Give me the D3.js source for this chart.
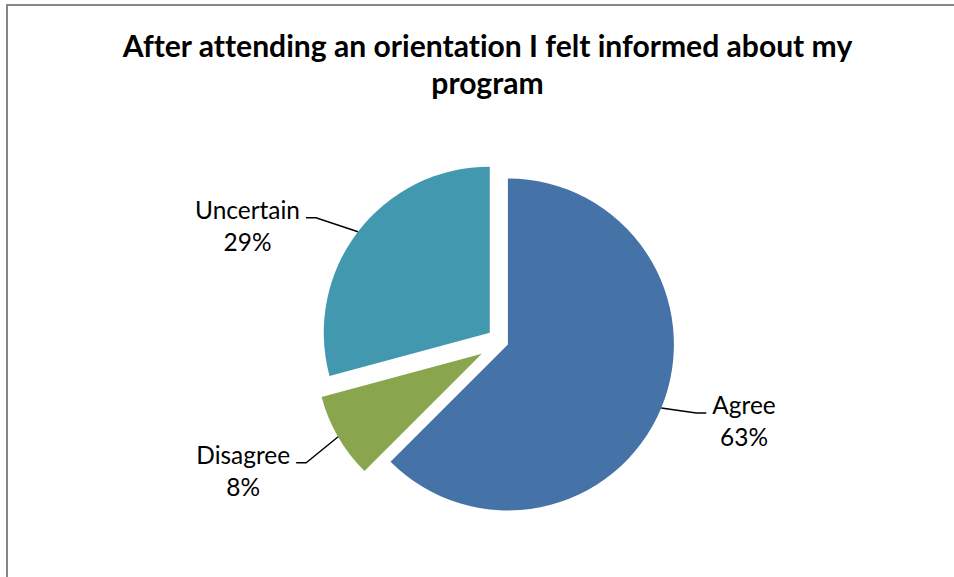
<!DOCTYPE html>
<html>
<head>
<meta charset="utf-8">
<script src="https://cdn.jsdelivr.net/npm/d3@7"></script>
<style>
  html, body { margin: 0; padding: 0; background: #fff; }
  svg { display: block; }
  text { font-variant-ligatures: none; font-feature-settings: "liga" 0, "clig" 0; }
</style>
</head>
<body>
<svg id="chart" width="954" height="577"></svg>
<script>
// ---- data ----
const titleLines = ["After attending an orientation I felt informed about my", "program"];
const categories = ["Agree", "Disagree", "Uncertain"];
const values = [62.5, 8.3, 29.2];
const percentLabels = ["63%", "8%", "29%"];

// ---- layout / style (not data) ----
const colors = ["#4572A7", "#89A54E", "#4198AF"];
const explodeBy = [6.4, 23.3, 15.4];           // px each slice is pulled out
const elbowOffset = [[35, 5], [-32, 26], [-42, -14]]; // leader elbow relative to arc point
const tailLength = 10;
const cx = 502, cy = 342, R = 166;

const svg = d3.select("#chart");

// frame
svg.append("rect")
  .attr("x", 7).attr("y", 5)
  .attr("width", 1200).attr("height", 1200)
  .attr("fill", "#fff")
  .attr("stroke", "#868686")
  .attr("stroke-width", 2);

// title
const titleFont = "Lato, 'Open Sans', sans-serif";
const title = svg.append("g");
const t1 = title.append("text")
  .attr("x", 487.5).attr("y", 57)
  .attr("text-anchor", "middle")
  .attr("font-family", titleFont).attr("font-weight", "bold")
  .attr("font-size", 30).attr("fill", "#000")
  .text(titleLines[0]);
const base = t1.node().getComputedTextLength();
const titleSize = 30 * 730 / base;
t1.attr("font-size", titleSize);
title.append("text")
  .attr("x", 487.5).attr("y", 94)
  .attr("text-anchor", "middle")
  .attr("font-family", titleFont).attr("font-weight", "bold")
  .attr("font-size", titleSize).attr("fill", "#000")
  .text(titleLines[1]);

// pie
const pie = d3.pie().sort(null).value(d => d);
const arcs = pie(values);
const arcGen = d3.arc().innerRadius(0).outerRadius(R);

const g = svg.append("g").attr("transform", `translate(${cx},${cy})`);

arcs.forEach((a, i) => {
  const mid = (a.startAngle + a.endAngle) / 2;
  const ox = Math.sin(mid) * explodeBy[i];
  const oy = -Math.cos(mid) * explodeBy[i];
  g.append("path")
    .attr("d", arcGen(a))
    .attr("transform", `translate(${ox},${oy})`)
    .attr("fill", colors[i]);
});

// labels
const labelFont = "Lato, 'Open Sans', sans-serif";
const probe = svg.append("text").attr("font-family", labelFont).attr("font-size", 24).text("Uncertain");
const labelSize = 24 * 105 / probe.node().getComputedTextLength();
probe.remove();

arcs.forEach((a, i) => {
  const mid = (a.startAngle + a.endAngle) / 2;
  const sx = Math.sin(mid), sy = -Math.cos(mid);
  const apx = sx * explodeBy[i], apy = sy * explodeBy[i];
  const p0 = [apx + sx * R, apy + sy * R];
  const p1 = [p0[0] + elbowOffset[i][0], p0[1] + elbowOffset[i][1]];
  const right = elbowOffset[i][0] > 0;
  const p2 = [p1[0] + (right ? tailLength : -tailLength), p1[1]];

  g.append("path")
    .attr("d", d3.line()([p0, p1, p2]))
    .attr("fill", "none")
    .attr("stroke", "#000")
    .attr("stroke-width", 1.4);

  const lab = g.append("g");
  const l1 = lab.append("text")
    .attr("text-anchor", "middle")
    .attr("font-family", labelFont).attr("font-size", labelSize).attr("fill", "#000")
    .attr("y", p2[1] + 1)
    .text(categories[i]);
  const l2 = lab.append("text")
    .attr("text-anchor", "middle")
    .attr("font-family", labelFont).attr("font-size", labelSize).attr("fill", "#000")
    .attr("y", p2[1] + 33)
    .text(percentLabels[i]);
  const w = Math.max(l1.node().getComputedTextLength(), l2.node().getComputedTextLength());
  const gap = 6;
  const centerX = right ? p2[0] + gap + w / 2 : p2[0] - gap - w / 2;
  l1.attr("x", centerX);
  l2.attr("x", centerX);
});
</script>
</body>
</html>
